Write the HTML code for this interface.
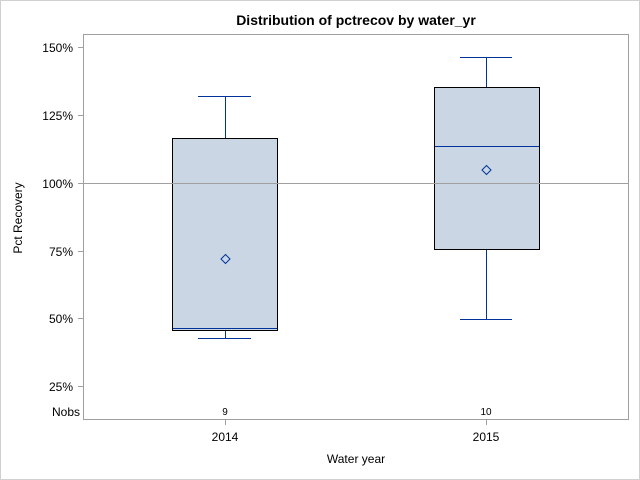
<!DOCTYPE html>
<html><head><style>
body{margin:0;background:#fff}
svg{display:block}
text{font-family:"Liberation Sans",Arial,sans-serif;fill:#000}
</style></head><body>
<svg width="640" height="480" viewBox="0 0 640 480">
<rect x="0.5" y="0.5" width="639" height="479" fill="#fff" stroke="#d0d0d0"/>
<text x="356" y="25" font-size="14" font-weight="bold" text-anchor="middle">Distribution of pctrecov by water_yr</text>
<rect x="83.5" y="34.5" width="545" height="385" fill="none" stroke="#a0a0a0"/>
<g stroke="#a0a0a0">
<line x1="78" y1="47.5" x2="83" y2="47.5"/>
<line x1="78" y1="115.5" x2="83" y2="115.5"/>
<line x1="78" y1="183.5" x2="83" y2="183.5"/>
<line x1="78" y1="251.5" x2="83" y2="251.5"/>
<line x1="78" y1="318.5" x2="83" y2="318.5"/>
<line x1="78" y1="386.5" x2="83" y2="386.5"/>
<line x1="225.5" y1="420" x2="225.5" y2="425"/>
<line x1="486.5" y1="420" x2="486.5" y2="425"/>
</g>
<g font-size="12" text-anchor="end">
<text x="73" y="52">150%</text>
<text x="73" y="120">125%</text>
<text x="73" y="188">100%</text>
<text x="73" y="256">75%</text>
<text x="73" y="323">50%</text>
<text x="73" y="391">25%</text>
<text x="80" y="416">Nobs</text>
</g>
<text x="22" y="218" font-size="12" text-anchor="middle" transform="rotate(-90 22 218)">Pct Recovery</text>
<text x="225" y="415" font-size="10" text-anchor="middle">9</text>
<text x="486" y="415" font-size="10" text-anchor="middle">10</text>
<text x="225" y="441" font-size="12" text-anchor="middle">2014</text>
<text x="486" y="441" font-size="12" text-anchor="middle">2015</text>
<text x="356" y="463" font-size="12" text-anchor="middle">Water year</text>
<g stroke="#003399" fill="none">
<line x1="225.5" y1="96.5" x2="225.5" y2="138"/>
<line x1="198" y1="96.5" x2="251" y2="96.5"/>
<line x1="225.5" y1="330" x2="225.5" y2="338.5"/>
<line x1="198" y1="338.5" x2="251" y2="338.5"/>
<line x1="486.5" y1="57.5" x2="486.5" y2="87"/>
<line x1="460" y1="57.5" x2="512" y2="57.5"/>
<line x1="486.5" y1="250" x2="486.5" y2="319.5"/>
<line x1="460" y1="319.5" x2="512" y2="319.5"/>
</g>
<rect x="172.5" y="138.5" width="105" height="192" fill="#cbd6e5" stroke="#000"/>
<rect x="434.5" y="87.5" width="105" height="162" fill="#cbd6e5" stroke="#000"/>
<line x1="84" y1="183.5" x2="628" y2="183.5" stroke="#a0a0a0"/>
<g stroke="#003399" fill="none">
<line x1="173" y1="328.5" x2="277" y2="328.5"/>
<line x1="435" y1="146.5" x2="539" y2="146.5"/>
<path d="M225.5 254.5 L230 259 L225.5 263.5 L221 259 Z"/>
<path d="M486.5 165.5 L491 170 L486.5 174.5 L482 170 Z"/>
</g>
</svg>
</body></html>
